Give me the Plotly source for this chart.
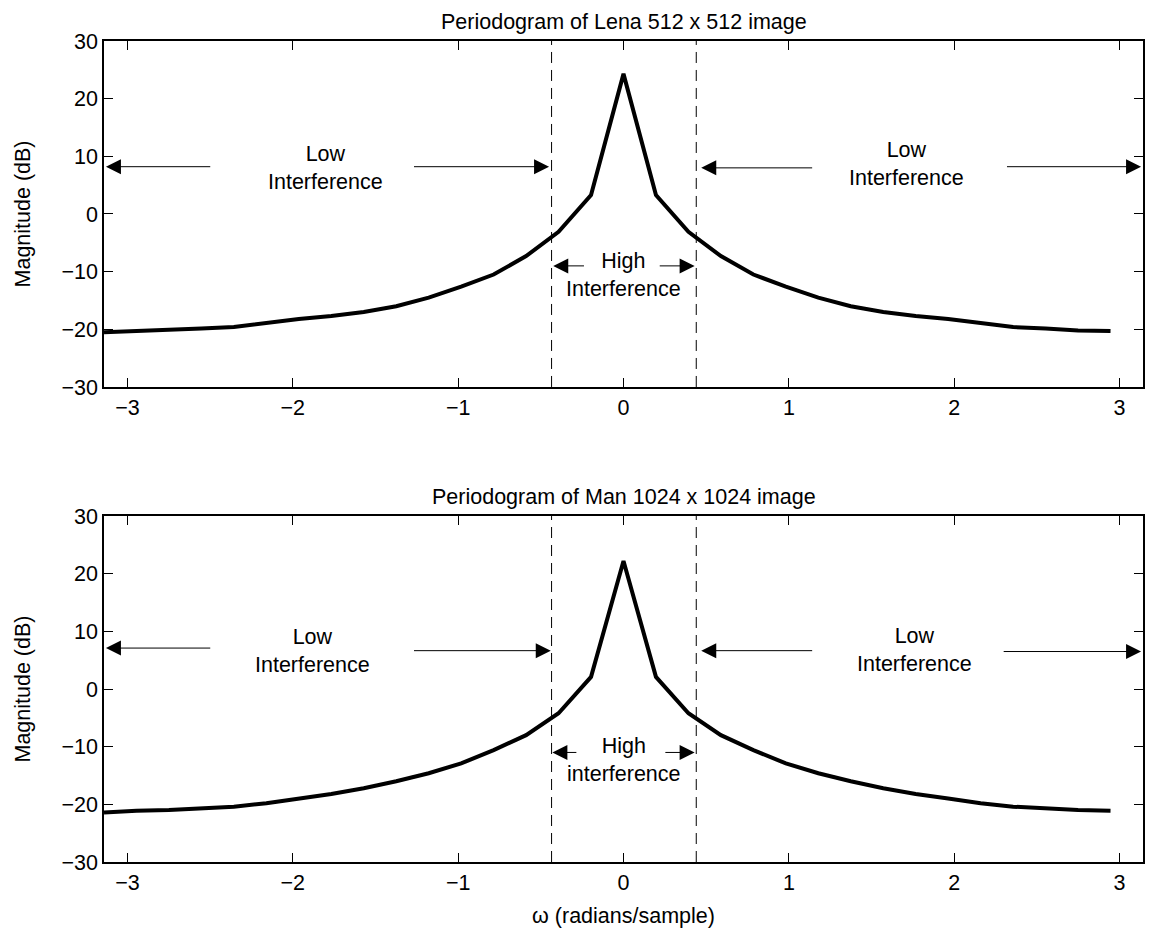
import plotly.graph_objects as go
from plotly.subplots import make_subplots

# frequency grid (radians/sample)
omega = [-3.1416, -2.9452, -2.7489, -2.5525, -2.3562, -2.1598, -1.9635, -1.7671,
         -1.5708, -1.3744, -1.1781, -0.9817, -0.7854, -0.5890, -0.3927, -0.1963,
         0.0, 0.1963, 0.3927, 0.5890, 0.7854, 0.9817, 1.1781, 1.3744,
         1.5708, 1.7671, 1.9635, 2.1598, 2.3562, 2.5525, 2.7489, 2.9452]

lena_db = [-20.5, -20.3, -20.2, -19.85, -19.6, -18.9, -18.2, -17.7,
           -17.0, -16.0, -14.5, -12.6, -10.5, -7.3, -3.1, 3.3,
           24.3, 3.3, -3.1, -7.3, -10.5, -12.6, -14.5, -16.0,
           -17.0, -17.7, -18.2, -18.9, -19.6, -19.85, -20.2, -20.3]

man_db = [-21.4, -21.1, -21.0, -20.7, -20.4, -19.8, -19.0, -18.2,
          -17.2, -16.0, -14.6, -12.9, -10.6, -8.0, -4.2, 2.1,
          22.2, 2.1, -4.2, -8.0, -10.6, -12.9, -14.6, -16.0,
          -17.2, -18.2, -19.0, -19.8, -20.4, -20.7, -21.0, -21.1]

band_edges = [-0.435, 0.44]
titles = ["Periodogram of Lena 512 x 512 image", "Periodogram of Man 1024 x 1024 image"]
high_labels = ["High<br>Interference", "High<br>interference"]
x_ticks = [-3, -2, -1, 0, 1, 2, 3]
x_ticktext = ["\u22123", "\u22122", "\u22121", "0", "1", "2", "3"]
y_ticks = [-30, -20, -10, 0, 10, 20, 30]
y_ticktext = ["\u221230", "\u221220", "\u221210", "0", "10", "20", "30"]

FONT = "Liberation Sans, Arial, Helvetica, sans-serif"
FS = 21.5
PI = 3.14159265

fig = make_subplots(rows=2, cols=1, vertical_spacing=0.1572)
fig.add_trace(go.Scatter(x=omega, y=lena_db, mode="lines",
                         line=dict(color="black", width=4), showlegend=False), row=1, col=1)
fig.add_trace(go.Scatter(x=omega, y=man_db, mode="lines",
                         line=dict(color="black", width=4), showlegend=False), row=2, col=1)

for r in (1, 2):
    fig.update_xaxes(row=r, col=1, range=[-PI, PI], tickvals=x_ticks, ticktext=x_ticktext,
                     ticks="inside", ticklen=9, tickwidth=1, tickcolor="black",
                     showline=True, linecolor="black", linewidth=1.5, mirror="ticks",
                     showgrid=False, zeroline=False,
                     tickfont=dict(family=FONT, size=FS, color="black"))
    fig.update_yaxes(row=r, col=1, range=[-30, 30], tickvals=y_ticks, ticktext=y_ticktext,
                     ticks="inside", ticklen=9, tickwidth=1, tickcolor="black",
                     showline=True, linecolor="black", linewidth=1.5, mirror="ticks",
                     showgrid=False, zeroline=False,
                     tickfont=dict(family=FONT, size=FS, color="black"),
                     title=dict(text="Magnitude (dB)", standoff=25,
                                font=dict(family=FONT, size=FS, color="black")))
    xr = "x" if r == 1 else "x2"
    yr = "y" if r == 1 else "y2"
    for xe in band_edges:
        fig.add_shape(type="line", xref=xr, yref=yr + " domain", x0=xe, x1=xe, y0=0, y1=1,
                      line=dict(color="black", width=1, dash="11px,7px"))
    fig.add_annotation(xref=xr + " domain", yref=yr + " domain", x=0.5, y=1,
                       yanchor="bottom", yshift=5, showarrow=False, text=titles[r - 1],
                       font=dict(family=FONT, size=FS, color="black"))

fig.update_xaxes(row=2, col=1,
                 title=dict(text="\u03c9 (radians/sample)", standoff=14,
                            font=dict(family=FONT, size=FS, color="black")))

def text(xr, yr, x, y, t):
    fig.add_annotation(xref=xr, yref=yr, x=x, y=y, text=t, showarrow=False,
                       align="center", font=dict(family=FONT, size=FS, color="black"))

def arrow(xr, yr, x0, y0, x1, y1):
    fig.add_annotation(xref=xr, yref=yr, axref=xr, ayref=yr, ax=x0, ay=y0, x=x1, y=y1,
                       text="", showarrow=True, arrowhead=2, arrowsize=3,
                       arrowwidth=1, arrowcolor="black", standoff=0, startstandoff=0)

# top panel
text("x", "y", -1.80, 8.0, "Low<br>Interference")
arrow("x", "y", -2.49, 8.2, -3.13, 8.2)
arrow("x", "y", -1.276, 8.2, -0.45, 8.2)
text("x", "y", 1.71, 8.7, "Low<br>Interference")
arrow("x", "y", 1.15, 8.0, 0.47, 8.0)
arrow("x", "y", 2.31, 8.2, 3.13, 8.2)
text("x", "y", 0.0, -10.6, high_labels[0])
arrow("x", "y", -0.23, -9.0, -0.425, -9.0)
arrow("x", "y", 0.21, -9.0, 0.43, -9.0)

# bottom panel
text("x2", "y2", -1.88, 6.6, "Low<br>Interference")
arrow("x2", "y2", -2.49, 7.1, -3.13, 7.1)
arrow("x2", "y2", -1.276, 6.65, -0.44, 6.65)
text("x2", "y2", 1.76, 6.8, "Low<br>Interference")
arrow("x2", "y2", 1.15, 6.65, 0.47, 6.65)
arrow("x2", "y2", 2.29, 6.5, 3.13, 6.5)
text("x2", "y2", 0.0, -12.25, high_labels[1])
arrow("x2", "y2", -0.276, -11.0, -0.43, -11.0)
arrow("x2", "y2", 0.244, -11.0, 0.43, -11.0)

fig.update_layout(width=1149, height=939, margin=dict(l=104, r=4, t=41, b=77),
                  paper_bgcolor="white", plot_bgcolor="white",
                  font=dict(family=FONT, size=FS, color="black"))
fig.update_layout(yaxis=dict(domain=[0.5786, 1]), yaxis2=dict(domain=[0, 0.4214]))

fig.write_html("out.html")
